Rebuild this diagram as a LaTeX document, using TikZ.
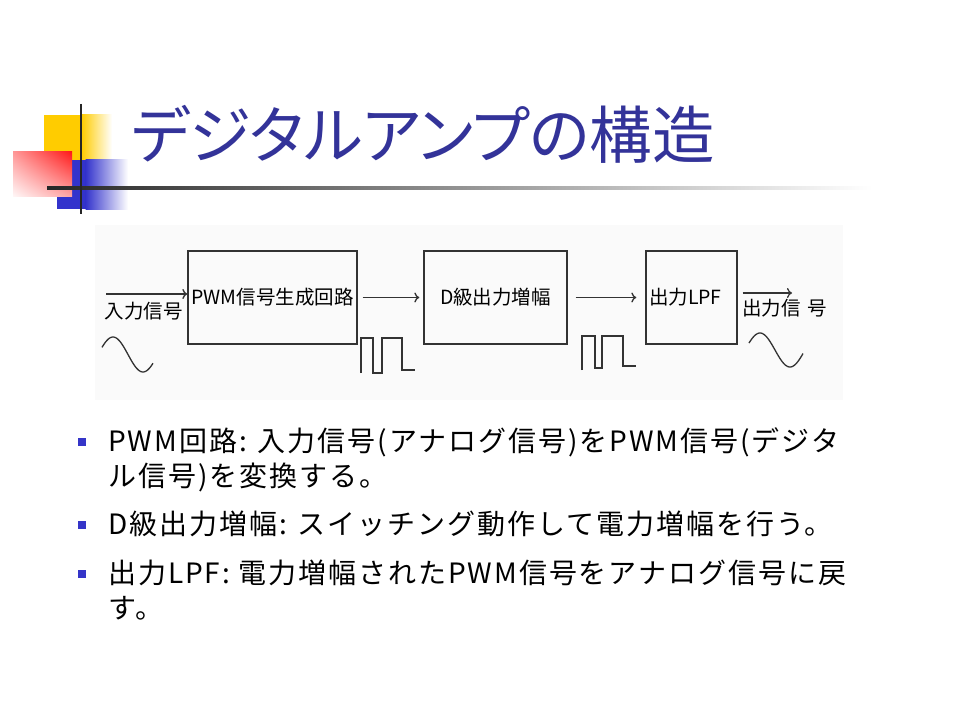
\documentclass[tikz,border=0pt]{standalone}
\usepackage{fontspec}
\usepackage{tikz}
\usetikzlibrary{arrows.meta,calc,shadings}
\newfontfamily\jpfont{Noto Sans CJK JP}[RawFeature=+palt]
\newfontfamily\jpbody{Noto Sans CJK JP}[LetterSpace=7]
\newfontfamily\jpmono{Noto Sans CJK JP}
\definecolor{titleblue}{HTML}{333399}
\definecolor{markblue}{HTML}{3535C8}
\definecolor{decoyellow}{HTML}{FFCC00}
\definecolor{decored}{HTML}{FF1A1A}
\definecolor{decoblue}{HTML}{3333CC}

\begin{document}
\begin{tikzpicture}
      [x = 1bp, y = -1bp,
      block/.style= {
         draw = black!80,
         line width = 1.3bp,
         inner sep = 3bp,
         minimum height = 93bp,
         font = \jpmono\fontsize{19.5bp}{22bp}\selectfont
      },
      sig/.style= {-{To[length = 5bp, width = 10bp]}, line width = 1.3bp, draw = black!80},
      wave/.style= {line width = 1.3bp, draw = black!80},
      sigtext/.style= {font = \jpmono\fontsize{19.5bp}{22bp}\selectfont},
      bodytext/.style= {
         anchor = base west,
         inner sep = 0pt,
         font = \jpbody\fontsize{28bp}{32bp}\selectfont
      },
      bullet/.style= {fill = markblue}]

      \fill[white] (0, 0) rectangle (960, 720);
      \useasboundingbox (0, 0) rectangle (960, 720);

      \fill[decoyellow] (44, 115) rectangle (82, 160);
      \shade[left color = decoyellow, right color = white] (81.5, 115) rectangle (112, 160);
      \fill[decoblue] (57, 160) rectangle (86, 209);
      \shade[left color = decoblue, right color = white] (85.5, 160) rectangle (128, 209);
      \shade[upper left = decored!45!white, upper right = decored,
         lower left = decored!4!white, lower right = decored!40!white] (13, 152) rectangle (72, 196);
      \shade[left color = black!85, right color = white] (47, 186.8) rectangle (872, 189.2);
      \draw[black!85, line width = 2bp] (81, 104) -- (81, 214);

      \node[anchor = base west, inner sep = 0pt, text = titleblue,
         font = \jpfont\fontsize{62.5bp}{63bp}\selectfont] (title) at (131, 159) {デジタルアンプの構造};

      \fill[black!2] (95, 225) rectangle (843, 400);

      \node[block, minimum width = 169bp] (pwm) at (272.5, 297.5) {PWM信号生成回路};
      \node[block, minimum width = 143bp] (cls) at (495.5, 297.5) {D級出力増幅};
      \node[block, minimum width = 91bp, text width = 85bp, align = left] (lpf) at (691.5, 297.5) {出力LPF};

      \coordinate (in) at (106, 294);
      \coordinate (out) at (792, 293);
      \draw[sig] (in) -- (in -| pwm.west);
      \draw[sig, shorten <= 5bp, shorten >= 4bp] (pwm) -- (cls);
      \draw[sig, shorten <= 8bp, shorten >= 9bp] (cls) -- (lpf);
      \draw[sig] ([xshift = 5bp]lpf.east |- out) -- (out);

      \node[sigtext] (inlbl) at (143.5, 311) {入力信号};
      \node[sigtext, anchor = west, inner sep = 0pt] (outlbl) at (742, 308.5) {出力信\hspace{0.35em}号};

      \draw[wave] plot[domain = 102:153, samples = 50] (\x, {354.5 - 17.5*cos(6*(\x - 113))});
      \draw[wave] plot[domain = 749:803, samples = 50] (\x, {350 - 17*cos(6*(\x - 760))});

      \draw[wave] (361, 373) -- (361, 338) -- (373, 338) -- (373, 373) -- (382, 373)
         -- (382, 338) -- (402, 338) -- (402, 370) -- (415, 370);
      \draw[wave] (582, 370) -- (582, 336) -- (595, 336) -- (595, 368) -- (602, 368)
         -- (602, 336) -- (623, 336) -- (623, 366) -- (636, 366);

      \fill[bullet] (78, 438) rectangle (86, 446);
      \fill[bullet] (78, 521) rectangle (86, 529);
      \fill[bullet] (78, 570) rectangle (86, 578);

      \node[bodytext] (b1a) at (108, 451) {PWM回路: 入力信号(アナログ信号)をPWM信号(デジタ};
      \node[bodytext] (b1b) at (108, 486) {ル信号)を変換する。};
      \node[bodytext] (b2) at (108, 534) {D級出力増幅: スイッチング動作して電力増幅を行う。};
      \node[bodytext] (b3a) at (108, 583) {出力LPF: 電力増幅されたPWM信号をアナログ信号に戻};
      \node[bodytext] (b3b) at (108, 618) {す。};

   \end{tikzpicture}
\end{document}
